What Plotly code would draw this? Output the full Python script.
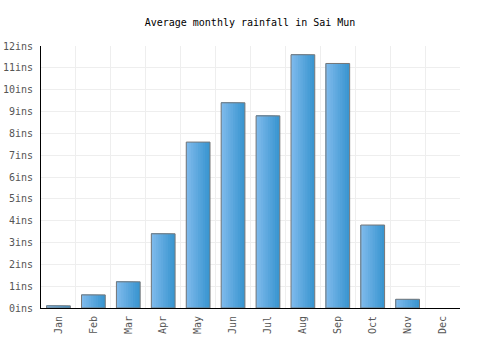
import plotly.graph_objects as go

months = ["Jan", "Feb", "Mar", "Apr", "May", "Jun", "Jul", "Aug", "Sep", "Oct", "Nov", "Dec"]
rainfall = [0.1, 0.6, 1.2, 3.4, 7.6, 9.4, 8.8, 11.6, 11.2, 3.8, 0.4, 0.0]

bar_w = 0.68
steps = 10
dark = (58, 150, 208)
light = (125, 185, 235)

fig = go.Figure()
for i in range(steps):
    t = i / (steps - 1)
    c = tuple(int(dark[k] + (light[k] - dark[k]) * t) for k in range(3))
    w = bar_w * (1 - i / steps)
    fig.add_trace(go.Bar(
        x=months, y=rainfall, width=w, offset=-bar_w / 2,
        marker=dict(color="rgb(%d,%d,%d)" % c, line=dict(width=0)),
        hoverinfo="skip", showlegend=False,
    ))
fig.add_trace(go.Bar(
    x=months, y=rainfall, width=bar_w, offset=-bar_w / 2,
    marker=dict(color="rgba(0,0,0,0)",
                line=dict(color="#777777", width=[1 if v > 0 else 0 for v in rainfall])),
    showlegend=False,
))

font = "DejaVu Sans Mono, monospace"
fig.update_layout(
    width=500, height=350,
    margin=dict(l=41, r=40, t=46, b=42),
    barmode="overlay",
    plot_bgcolor="white", paper_bgcolor="white",
    title=dict(text="Average monthly rainfall in Sai Mun", x=0.5, xanchor="center",
               y=1 - 22 / 350, yanchor="middle",
               font=dict(family=font, size=10, color="#000")),
    font=dict(family=font, size=10, color="#555"),
    xaxis=dict(type="category", tickangle=-90, showgrid=True, gridcolor="#eeeeee",
               tickson="boundaries", ticks="", showline=True, linecolor="#000",
               linewidth=1, automargin=False, ticklabelstandoff=3,
               tickfont=dict(size=10, color="#555")),
    yaxis=dict(range=[0, 12], dtick=1, ticksuffix="ins", showgrid=True,
               gridcolor="#eeeeee", showline=True, linecolor="#000", linewidth=1,
               ticks="", zeroline=False, automargin=False, ticklabelstandoff=5,
               tickfont=dict(size=10, color="#555")),
)
fig.write_html("out.html")
